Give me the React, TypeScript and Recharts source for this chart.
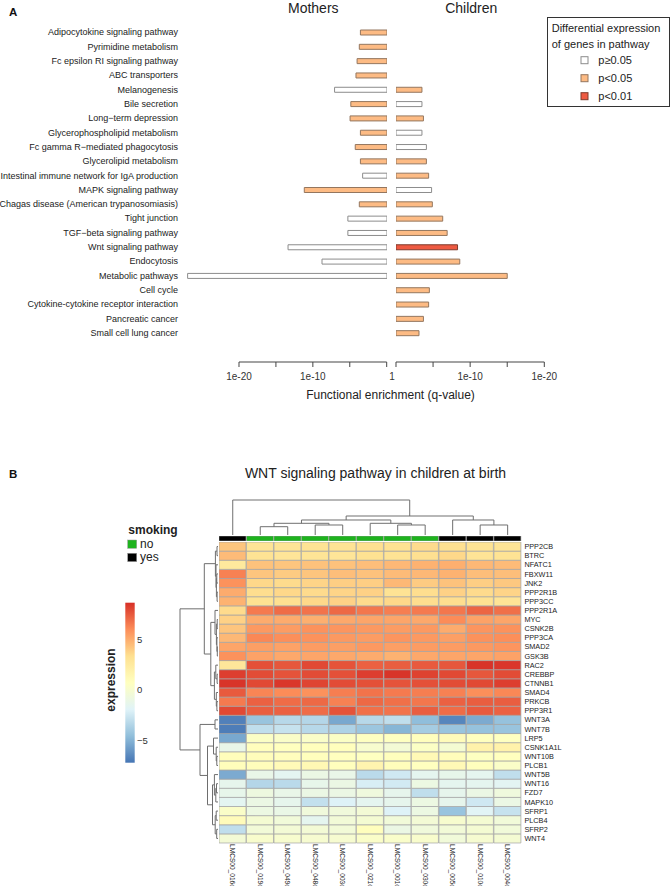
import React from 'react';
import { BarChart, Bar, Cell, XAxis, YAxis, LineChart, Line } from 'recharts';

const FONT = '"Liberation Sans", Arial, Helvetica, sans-serif';

// ---------- Panel A: functional enrichment ----------
const pathways = [
  'Adipocytokine signaling pathway',
  'Pyrimidine metabolism',
  'Fc epsilon RI signaling pathway',
  'ABC transporters',
  'Melanogenesis',
  'Bile secretion',
  'Long\u2212term depression',
  'Glycerophospholipid metabolism',
  'Fc gamma R\u2212mediated phagocytosis',
  'Glycerolipid metabolism',
  'Intestinal immune network for IgA production',
  'MAPK signaling pathway',
  'Chagas disease (American trypanosomiasis)',
  'Tight junction',
  'TGF\u2212beta signaling pathway',
  'Wnt signaling pathway',
  'Endocytosis',
  'Metabolic pathways',
  'Cell cycle',
  'Cytokine-cytokine receptor interaction',
  'Pancreatic cancer',
  'Small cell lung cancer',
];
// -log10(q)
const mothersLogQ = [3.6, 3.75, 4.05, 4.2, 7.1, 4.9, 5.0, 3.6, 4.3, 3.6, 3.3, 11.2, 3.75, 5.3, 5.3, 13.4, 8.8, 27.0, null, null, null, null];
const mothersSig = ['p05', 'p05', 'p05', 'p05', 'ns', 'p05', 'p05', 'p05', 'p05', 'p05', 'ns', 'p05', 'p05', 'ns', 'ns', 'ns', 'ns', 'ns', null, null, null, null];
const childrenLogQ = [null, null, null, null, 3.5, 3.5, 3.7, 3.5, 4.1, 4.1, 4.4, 4.8, 4.9, 6.3, 6.9, 8.3, 8.6, 15.0, 4.5, 4.4, 3.7, 3.1];
const childrenSig = [null, null, null, null, 'p05', 'ns', 'p05', 'ns', 'ns', 'p05', 'p05', 'ns', 'p05', 'p05', 'p05', 'p01', 'p05', 'p05', 'p05', 'p05', 'p05', 'p05'];

const mothersTicks = [-20, -15, -10, -5, 0];
const childrenTicks = [0, 5, 10, 15, 20];
const mothersTickLabels: Record<number, string> = { [-20]: '1e-20', [-10]: '1e-10' };
const childrenTickLabels: Record<number, string> = { 0: '1', 10: '1e-10', 20: '1e-20' };

const sigFill: Record<string, string> = { ns: '#FFFFFF', p05: '#FDBB84', p01: '#EE5A42' };
const sigStroke: Record<string, string> = { ns: '#8C8C8C', p05: '#94765E', p01: '#7E3A2C' };
const sigLabels = [['ns', 'p\u22650.05'], ['p05', 'p<0.05'], ['p01', 'p<0.01']];

const pathRows = pathways.map((name, i) => ({
  name,
  m: mothersLogQ[i] == null ? null : -(mothersLogQ[i] as number),
  c: childrenLogQ[i],
}));

// ---------- Panel B: WNT heatmap ----------
const samples = ['LMCS00_016c', 'LMCS00_019c', 'LMCS00_049c', 'LMCS00_048c', 'LMCS00_003c', 'LMCS00_021c', 'LMCS00_001c', 'LMCS00_030c', 'LMCS00_005c', 'LMCS00_010c', 'LMCS00_004c'];
const smoking = ['yes', 'no', 'no', 'no', 'no', 'no', 'no', 'no', 'yes', 'yes', 'yes'];
const smokingColors: Record<string, string> = { no: '#1EB31E', yes: '#000000' };

const genes = ['PPP2CB', 'BTRC', 'NFATC1', 'FBXW11', 'JNK2', 'PPP2R1B', 'PPP3CC', 'PPP2R1A', 'MYC', 'CSNK2B', 'PPP3CA', 'SMAD2', 'GSK3B', 'RAC2', 'CREBBP', 'CTNNB1', 'SMAD4', 'PRKCB', 'PPP3R1', 'WNT3A', 'WNT7B', 'LRP5', 'CSNK1A1L', 'WNT10B', 'PLCB1', 'WNT5B', 'WNT16', 'FZD7', 'MAPK10', 'SFRP1', 'PLCB4', 'SFRP2', 'WNT4'];

const expression: number[][] = [
  [4.2, 3.0, 3.0, 3.1, 3.1, 3.3, 3.2, 3.5, 3.3, 3.1, 3.0],
  [4.5, 3.1, 2.9, 3.0, 2.9, 3.2, 3.1, 3.3, 3.6, 3.0, 3.1],
  [2.6, 4.3, 4.2, 4.3, 4.3, 4.4, 4.6, 4.8, 4.9, 4.6, 4.5],
  [6.3, 4.2, 4.0, 4.2, 4.4, 4.3, 4.5, 4.6, 4.8, 4.4, 4.4],
  [5.8, 3.6, 3.5, 3.7, 3.9, 3.9, 4.6, 4.0, 4.3, 3.9, 4.1],
  [5.0, 3.4, 3.6, 3.5, 3.7, 3.8, 3.1, 3.4, 3.8, 3.5, 3.7],
  [4.8, 3.2, 3.3, 3.6, 3.8, 3.5, 3.6, 3.4, 3.4, 3.2, 3.0],
  [3.5, 6.5, 6.9, 6.7, 7.0, 6.6, 6.4, 6.5, 6.6, 7.1, 6.8],
  [3.8, 5.0, 5.0, 4.9, 5.1, 5.2, 5.2, 5.1, 6.0, 5.3, 5.2],
  [4.2, 5.6, 5.5, 5.8, 5.7, 5.6, 5.5, 5.6, 5.0, 5.7, 5.8],
  [4.6, 6.1, 5.9, 5.8, 5.6, 5.5, 5.7, 5.6, 5.4, 5.8, 5.9],
  [5.2, 5.4, 5.3, 5.5, 5.4, 5.6, 5.4, 5.5, 5.5, 5.6, 5.7],
  [5.8, 5.3, 5.1, 5.2, 5.1, 5.0, 4.8, 5.1, 5.2, 5.2, 5.3],
  [2.8, 7.7, 7.5, 7.9, 7.6, 7.2, 7.3, 7.4, 7.5, 8.5, 8.4],
  [8.2, 7.8, 7.6, 7.8, 7.7, 8.2, 8.5, 8.1, 7.9, 7.5, 7.8],
  [8.5, 7.9, 8.4, 8.0, 7.8, 7.7, 7.6, 7.7, 7.8, 7.9, 8.2],
  [7.4, 6.2, 6.0, 5.8, 6.4, 6.7, 6.5, 6.4, 6.3, 5.9, 6.1],
  [6.5, 7.2, 6.9, 7.0, 6.3, 7.0, 6.8, 6.6, 7.2, 7.3, 7.3],
  [7.9, 7.3, 7.2, 6.9, 7.6, 6.8, 6.7, 7.3, 6.9, 7.4, 7.2],
  [-6.8, -4.3, -3.3, -3.4, -5.4, -3.3, -3.0, -4.6, -6.6, -5.3, -4.4],
  [-6.9, -3.0, -2.8, -3.3, -3.6, -4.2, -4.9, -3.9, -4.3, -4.4, -4.3],
  [-5.4, 0.4, 0.3, 0.3, 0.4, 0.6, 0.6, 0.8, 1.0, 0.7, 0.6],
  [-1.2, 0.8, 0.7, 0.8, 0.8, 0.0, -0.3, 0.4, -0.2, 1.8, 1.8],
  [0.9, 0.9, 0.8, 0.8, 0.7, 0.6, 0.8, 1.2, 0.9, 0.6, 0.7],
  [0.9, 0.9, 1.1, 1.3, 0.8, 1.6, 0.9, 0.7, 1.2, 0.8, 0.3],
  [-5.3, -1.2, -1.6, -1.0, -1.2, -3.2, -2.5, -1.5, -1.3, -1.5, -3.0],
  [-1.4, -3.4, -3.2, -1.3, -1.0, -2.2, -2.4, -0.9, -1.5, -1.5, -1.7],
  [-1.3, -0.8, -1.2, -1.0, -1.0, -0.7, -1.4, -3.0, -1.4, -1.0, -0.7],
  [-1.6, -1.0, -1.4, -2.9, -2.0, -1.5, -1.4, -0.9, -1.4, -2.5, -1.0],
  [0.3, -0.9, -1.1, -0.6, -0.6, -0.3, -2.0, -0.9, -4.3, -1.8, -2.8],
  [1.0, -0.2, -0.5, -1.5, -0.4, -0.2, -0.5, -0.3, 0.0, -0.2, -0.5],
  [-3.0, -0.4, -0.3, -0.3, -0.4, 0.8, -1.0, -0.6, -0.4, -0.2, -0.5],
  [-0.3, 0.1, 0.0, -0.1, -0.1, 0.3, 0.2, 0.1, -0.5, -0.1, -0.2],
];

const heatColors = ['#4575B4', '#91BFDB', '#E0F3F8', '#FFFFBF', '#FEE090', '#FC8D59', '#D73027'];
const heatMin = -7.2;
const heatMax = 8.6;
const legendTicks = [5, 0, -5];

// hclust-style merges: [id, left, right, height]; numbers are leaf indices
const colMerges: [string, number | string, number | string, number][] = [
  ['A', 1, 2, 8.3],
  ['B', 3, 4, 10],
  ['C', 'A', 'B', 11.7],
  ['D', 6, 7, 10],
  ['E', 5, 'D', 11.7],
  ['F', 'C', 'E', 15],
  ['G', 9, 10, 10],
  ['H', 8, 'G', 15],
  ['I', 'F', 'H', 19],
  ['root', 0, 'I', 35],
];
const rowMerges: [string, number | string, number | string, number][] = [
  ['r01', 0, 1, 1.0],
  ['r34', 3, 4, 1.2],
  ['r56', 5, 6, 0.9],
  ['r3456', 'r34', 'r56', 1.6],
  ['r2_6', 2, 'r3456', 2.0],
  ['C1', 'r01', 'r2_6', 2.6],
  ['r89', 8, 9, 0.8],
  ['r1112', 11, 12, 0.7],
  ['r10_12', 10, 'r1112', 1.1],
  ['r8_12', 'r89', 'r10_12', 1.6],
  ['C2a', 7, 'r8_12', 3.0],
  ['r1415', 14, 15, 0.9],
  ['r13_15', 13, 'r1415', 2.2],
  ['r1718', 17, 18, 1.1],
  ['r16_18', 16, 'r1718', 1.7],
  ['C2b', 'r13_15', 'r16_18', 3.6],
  ['C2', 'C2a', 'C2b', 7.2],
  ['U', 'C1', 'C2', 13.7],
  ['r1920', 19, 20, 3.0],
  ['r2324', 23, 24, 1.2],
  ['r22_24', 22, 'r2324', 1.8],
  ['R1', 21, 'r22_24', 4.5],
  ['r2627', 26, 27, 1.5],
  ['r26_28', 'r2627', 28, 2.2],
  ['R2a', 25, 'r26_28', 3.6],
  ['r2930', 29, 30, 1.8],
  ['r3132', 31, 32, 1.3],
  ['R2b', 'r2930', 'r3132', 2.8],
  ['R2', 'R2a', 'R2b', 5.5],
  ['R', 'R1', 'R2', 10.5],
  ['L', 'r1920', 'R', 18],
  ['root', 'U', 'L', 38],
];

function dendroPoints(merges: [string, number | string, number | string, number][], leaves: number) {
  const pos: Record<string, number> = {};
  const ht: Record<string, number> = {};
  for (let i = 0; i < leaves; i++) {
    pos[i] = i + 0.5;
    ht[i] = 0;
  }
  const pts: { p: number; h: number | null }[] = [];
  merges.forEach(([id, a, b, h]) => {
    pos[id] = (pos[a] + pos[b]) / 2;
    ht[id] = h;
    pts.push({ p: pos[a], h: ht[a] }, { p: pos[a], h }, { p: pos[b], h }, { p: pos[b], h: ht[b] }, { p: pos[b], h: null });
  });
  return pts;
}

const colDendro = dendroPoints(colMerges, samples.length).map((d) => ({ x: d.p, y: d.h }));
const rowDendro = dendroPoints(rowMerges, genes.length).map((d) => ({ x: d.h ?? 0, y: d.h == null ? null : d.p }));

function hexRgb(h: string) {
  const n = parseInt(h.slice(1), 16);
  return [(n >> 16) & 255, (n >> 8) & 255, n & 255];
}
function heatColor(v: number) {
  const t = Math.max(0, Math.min(1, (v - heatMin) / (heatMax - heatMin))) * (heatColors.length - 1);
  const i = Math.min(heatColors.length - 2, Math.floor(t));
  const f = t - i;
  const a = hexRgb(heatColors[i]);
  const b = hexRgb(heatColors[i + 1]);
  return `rgb(${a.map((c, k) => Math.round(c + (b[k] - c) * f)).join(',')})`;
}

const heatRows = samples.map((s) => {
  const row: Record<string, any> = { sample: s };
  genes.forEach((g) => (row[g] = 1));
  return row;
});
const annRows = samples.map((s, i) => ({ sample: s, smoking: smoking[i], one: 1 }));
const geneTicks = genes.map((_, i) => genes.length - i - 0.5);

const PathTick = ({ x, y, payload }: any) => (
  <text x={x} y={y} dy="0.355em" textAnchor="end" fontSize={9} fill="#222">
    {payload.value}
  </text>
);

const AxisTick = ({ x, y, payload, labels, shift }: any) => (
  <text x={x + (payload.value === 0 ? shift : 0)} y={y} dy="0.71em" textAnchor="middle" fontSize={10} fill="#333">
    {labels[payload.value] ?? ''}
  </text>
);

const ColTick = ({ x, y, payload }: any) => (
  <g transform={`translate(${x},${y}) rotate(90)`}>
    <text x={0} y={0} dy="0.35em" fontSize={6.6} fill="#222">
      {payload.value}
    </text>
  </g>
);

const abs = (left: number, top: number): React.CSSProperties => ({ position: 'absolute', left, top });

export default function App() {
  const cbTop = 602.7;
  const cbH = 160;
  const cbY = (v: number) => cbTop + ((heatMax - v) / (heatMax - heatMin)) * cbH;
  const gradStops = heatColors.slice().reverse();

  return (
    <div style={{ position: 'absolute', left: 0, top: 0, width: 671, height: 886, overflow: 'hidden', background: '#fff', fontFamily: FONT }}>
      {/* mothers bars */}
      <div style={abs(0, 25)}>
        <BarChart width={387} height={315} layout="vertical" data={pathRows} margin={{ top: 0, right: 0, bottom: 0, left: 0 }} barSize={5}>
          <XAxis type="number" domain={[-27.76, 0]} hide allowDataOverflow />
          <YAxis type="category" dataKey="name" width={182} interval={0} tickLine={false} axisLine={false} tickSize={0} tickMargin={4} tick={PathTick} />
          <Bar dataKey="m" isAnimationActive={false}>
            {pathRows.map((_, i) => (
              <Cell key={i} fill={sigFill[mothersSig[i] ?? 'ns']} stroke={sigStroke[mothersSig[i] ?? 'ns']} strokeWidth={1} />
            ))}
          </Bar>
        </BarChart>
      </div>
      {/* children bars */}
      <div style={abs(395.5, 25)}>
        <BarChart width={148.3} height={315} layout="vertical" data={pathRows} margin={{ top: 0, right: 0, bottom: 0, left: 0 }} barSize={5}>
          <XAxis type="number" domain={[0, 20]} hide allowDataOverflow />
          <YAxis type="category" dataKey="name" hide />
          <Bar dataKey="c" isAnimationActive={false}>
            {pathRows.map((_, i) => (
              <Cell key={i} fill={sigFill[childrenSig[i] ?? 'ns']} stroke={sigStroke[childrenSig[i] ?? 'ns']} strokeWidth={1} />
            ))}
          </Bar>
        </BarChart>
      </div>
      {/* q-value axes */}
      <div style={abs(214, 350.3)}>
        <LineChart width={197.7} height={42} data={mothersTicks.map((v) => ({ v }))} margin={{ top: 10, right: 25, bottom: 0, left: 25 }}>
          <XAxis type="number" dataKey="v" domain={[-20, 0]} ticks={mothersTicks} interval={0} height={30} tickSize={5} tickMargin={6} stroke="#444" tick={(p: any) => <AxisTick {...p} labels={mothersTickLabels} shift={0} />} />
          <YAxis hide />
          <Line dataKey="v" stroke="none" dot={false} isAnimationActive={false} />
        </LineChart>
      </div>
      <div style={abs(371, 350.3)}>
        <LineChart width={198.3} height={42} data={childrenTicks.map((v) => ({ v }))} margin={{ top: 10, right: 25, bottom: 0, left: 25 }}>
          <XAxis type="number" dataKey="v" domain={[0, 20]} ticks={childrenTicks} interval={0} height={30} tickSize={5} tickMargin={6} stroke="#444" tick={(p: any) => <AxisTick {...p} labels={childrenTickLabels} shift={-4} />} />
          <YAxis hide />
          <Line dataKey="v" stroke="none" dot={false} isAnimationActive={false} />
        </LineChart>
      </div>

      {/* column dendrogram */}
      <div style={abs(219.3, 499)}>
        <LineChart width={302.4} height={36} data={colDendro} margin={{ top: 1, right: 0, bottom: 0, left: 0 }}>
          <XAxis type="number" dataKey="x" domain={[0, samples.length]} hide />
          <YAxis type="number" domain={[0, 35]} hide />
          <Line dataKey="y" stroke="#6E6E6E" strokeWidth={1} dot={false} connectNulls={false} isAnimationActive={false} />
        </LineChart>
      </div>
      {/* smoking annotation */}
      <div style={abs(219.3, 535.7)}>
        <BarChart width={302.4} height={5} data={annRows} margin={{ top: 0, right: 0, bottom: 0, left: 0 }} barCategoryGap={0}>
          <XAxis dataKey="sample" hide />
          <YAxis hide domain={[0, 1]} />
          <Bar dataKey="one" isAnimationActive={false}>
            {annRows.map((r, i) => (
              <Cell key={i} fill={smokingColors[r.smoking]} stroke="#9a9a9a" strokeWidth={0.6} />
            ))}
          </Bar>
        </BarChart>
      </div>
      {/* row dendrogram */}
      <div style={abs(179, 541.7)}>
        <LineChart width={40} height={301} data={rowDendro} margin={{ top: 0, right: 1, bottom: 0, left: 1 }}>
          <XAxis type="number" dataKey="x" domain={[0, 38]} reversed hide />
          <YAxis type="number" domain={[0, genes.length]} reversed hide />
          <Line dataKey="y" stroke="#6E6E6E" strokeWidth={1} dot={false} connectNulls={false} isAnimationActive={false} />
        </LineChart>
      </div>
      {/* heatmap */}
      <div style={abs(219.3, 541.7)}>
        <BarChart width={302.4 + 45} height={301 + 50} data={heatRows} margin={{ top: 0, right: 0, bottom: 0, left: 0 }} barCategoryGap={0} barGap={0}>
          <XAxis dataKey="sample" interval={0} height={50} tickLine={false} axisLine={false} tickSize={0} tickMargin={1} tick={ColTick} />
          <YAxis
            type="number"
            orientation="right"
            domain={[0, genes.length]}
            ticks={geneTicks}
            interval={0}
            width={45}
            tickLine={false}
            axisLine={false}
            tickSize={0}
            tickMargin={3}
            tickFormatter={(v: number) => genes[Math.round(genes.length - 0.5 - v)]}
            tick={{ fontSize: 7.3, fill: '#222' }}
          />
          {genes
            .map((g, gi) => ({ g, gi }))
            .reverse()
            .map(({ g, gi }) => (
              <Bar key={g} dataKey={g} stackId="h" isAnimationActive={false}>
                {samples.map((_, j) => (
                  <Cell key={j} fill={heatColor(expression[gi][j])} stroke="#a4a4a4" strokeWidth={0.7} />
                ))}
              </Bar>
            ))}
        </BarChart>
      </div>

      {/* text, legends */}
      <svg width={671} height={886} style={{ position: 'absolute', left: 0, top: 0, pointerEvents: 'none' }} fontFamily={FONT}>
        <defs>
          <linearGradient id="exprGrad" x1="0" y1="0" x2="0" y2="1">
            {gradStops.map((c, i) => (
              <stop key={i} offset={i / (gradStops.length - 1)} stopColor={c} />
            ))}
          </linearGradient>
        </defs>
        <text x={9} y={15.7} fontSize={11.5} fontWeight="bold" fill="#111">A</text>
        <text x={313.3} y={12.7} fontSize={14} textAnchor="middle" fill="#222">Mothers</text>
        <text x={471.2} y={12.7} fontSize={14} textAnchor="middle" fill="#222">Children</text>
        <text x={390.5} y={398.6} fontSize={12} textAnchor="middle" fill="#222">Functional enrichment (q-value)</text>

        <rect x={547.5} y={17.5} width={122} height={89} fill="#fff" stroke="#333" strokeWidth={1} />
        <text x={551.7} y={31.5} fontSize={11} fill="#222">Differential expression</text>
        <text x={551.7} y={48} fontSize={11} fill="#222">of genes in pathway</text>
        {sigLabels.map(([k, label], i) => (
          <g key={k}>
            <rect x={581} y={56.7 + i * 18} width={7} height={7} fill={sigFill[k]} stroke={sigStroke[k]} strokeWidth={1} />
            <text x={598.3} y={64.2 + i * 18} fontSize={11} fill="#222">{label}</text>
          </g>
        ))}

        <text x={9} y={477.7} fontSize={11.5} fontWeight="bold" fill="#111">B</text>
        <text x={375.5} y={477.7} fontSize={14} textAnchor="middle" fill="#222">WNT signaling pathway in children at birth</text>

        <text x={128.3} y={534.3} fontSize={12} fontWeight="bold" fill="#222">smoking</text>
        {['no', 'yes'].map((k, i) => (
          <g key={k}>
            <rect x={127.7} y={540 + i * 13.3} width={9} height={8.3} fill={smokingColors[k]} stroke="#999" strokeWidth={0.5} />
            <text x={140} y={547.9 + i * 13.3} fontSize={12} fill="#222">{k}</text>
          </g>
        ))}

        <text x={115} y={680} fontSize={12} fontWeight="bold" fill="#222" textAnchor="middle" transform="rotate(-90,115,680)">expression</text>
        <rect x={125.3} y={cbTop} width={9.4} height={cbH} fill="url(#exprGrad)" />
        {legendTicks.map((v) => (
          <text key={v} x={137} y={cbY(v) + 3.4} fontSize={9.5} fill="#333">{v < 0 ? `\u2212${-v}` : v}</text>
        ))}
      </svg>
    </div>
  );
}
